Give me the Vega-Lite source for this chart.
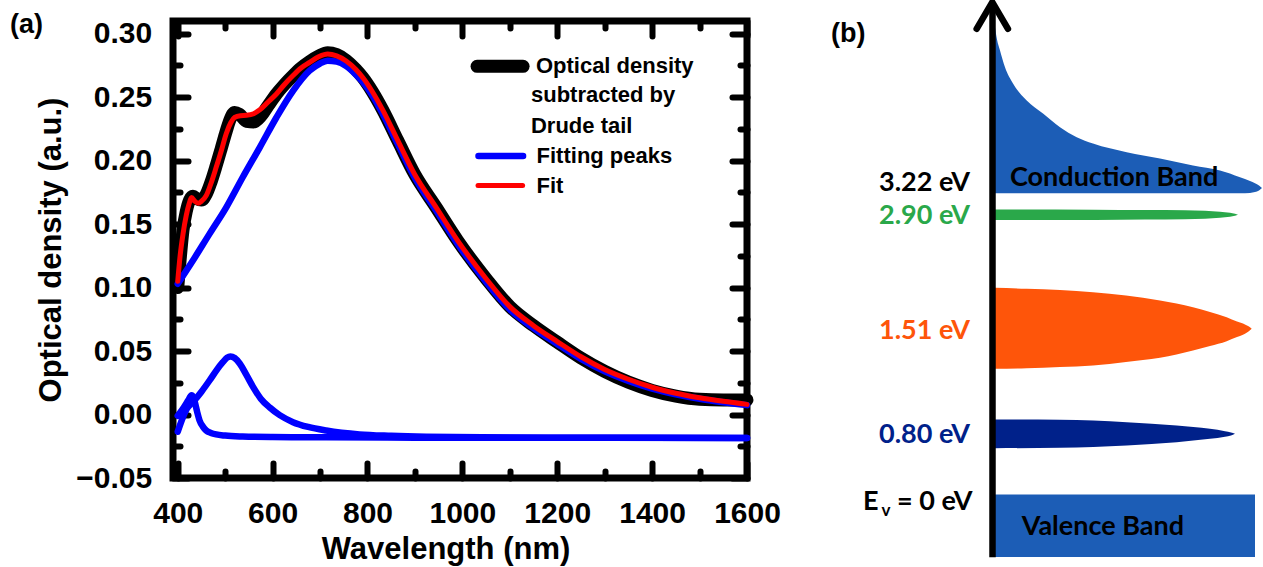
{
  "$schema": "https://vega.github.io/schema/vega-lite/v6.json",
  "padding": {"left": 6, "top": -11, "right": 0, "bottom": 0},
  "background": "white",
  "bounds": "flush",
  "spacing": 83,
  "config": {"view": {"stroke": null}, "font": "Liberation Sans"},
  "datasets": {
    "measured": [
      {"wl": 400, "od": 0.100}, {"wl": 405, "od": 0.122}, {"wl": 411, "od": 0.145}, {"wl": 418, "od": 0.160},
      {"wl": 425, "od": 0.169}, {"wl": 432, "od": 0.172}, {"wl": 440, "od": 0.170}, {"wl": 450, "od": 0.169},
      {"wl": 460, "od": 0.1735}, {"wl": 470, "od": 0.183}, {"wl": 481, "od": 0.196}, {"wl": 492, "od": 0.210},
      {"wl": 502, "od": 0.223}, {"wl": 512, "od": 0.234}, {"wl": 520, "od": 0.238}, {"wl": 530, "od": 0.2365},
      {"wl": 545, "od": 0.231}, {"wl": 560, "od": 0.2305}, {"wl": 575, "od": 0.235}, {"wl": 590, "od": 0.243},
      {"wl": 608, "od": 0.2525}, {"wl": 625, "od": 0.260}, {"wl": 643, "od": 0.267}, {"wl": 660, "od": 0.273},
      {"wl": 678, "od": 0.278}, {"wl": 698, "od": 0.2825}, {"wl": 716, "od": 0.285}, {"wl": 735, "od": 0.2835},
      {"wl": 755, "od": 0.279}, {"wl": 775, "od": 0.272}, {"wl": 790, "od": 0.2655}, {"wl": 810, "od": 0.2545},
      {"wl": 832, "od": 0.240}, {"wl": 864, "od": 0.2157}, {"wl": 899, "od": 0.1895}, {"wl": 945, "od": 0.163},
      {"wl": 990, "od": 0.137}, {"wl": 1050, "od": 0.107}, {"wl": 1100, "od": 0.085}, {"wl": 1150, "od": 0.070},
      {"wl": 1200, "od": 0.057}, {"wl": 1250, "od": 0.0445}, {"wl": 1300, "od": 0.034}, {"wl": 1350, "od": 0.0255},
      {"wl": 1400, "od": 0.019}, {"wl": 1450, "od": 0.0145}, {"wl": 1500, "od": 0.012}, {"wl": 1550, "od": 0.0115},
      {"wl": 1600, "od": 0.0115}
    ],
    "fit": [
      {"wl": 400, "od": 0.105}, {"wl": 405, "od": 0.125}, {"wl": 411, "od": 0.142}, {"wl": 418, "od": 0.157},
      {"wl": 424, "od": 0.166}, {"wl": 429, "od": 0.171}, {"wl": 436, "od": 0.168}, {"wl": 443, "od": 0.1664},
      {"wl": 450, "od": 0.168}, {"wl": 460, "od": 0.1724}, {"wl": 470, "od": 0.182}, {"wl": 481, "od": 0.1947},
      {"wl": 492, "od": 0.208}, {"wl": 502, "od": 0.221}, {"wl": 512, "od": 0.230}, {"wl": 520, "od": 0.234},
      {"wl": 532, "od": 0.2354}, {"wl": 545, "od": 0.2357}, {"wl": 560, "od": 0.237}, {"wl": 573, "od": 0.240},
      {"wl": 590, "od": 0.246}, {"wl": 608, "od": 0.2525}, {"wl": 625, "od": 0.260}, {"wl": 643, "od": 0.267},
      {"wl": 660, "od": 0.273}, {"wl": 678, "od": 0.2774}, {"wl": 698, "od": 0.282}, {"wl": 716, "od": 0.284},
      {"wl": 735, "od": 0.2825}, {"wl": 755, "od": 0.2785}, {"wl": 775, "od": 0.272}, {"wl": 790, "od": 0.2655},
      {"wl": 810, "od": 0.2545}, {"wl": 832, "od": 0.240}, {"wl": 864, "od": 0.2157}, {"wl": 899, "od": 0.1895},
      {"wl": 945, "od": 0.163}, {"wl": 990, "od": 0.137}, {"wl": 1050, "od": 0.107}, {"wl": 1100, "od": 0.085},
      {"wl": 1150, "od": 0.070}, {"wl": 1200, "od": 0.0575}, {"wl": 1250, "od": 0.0455}, {"wl": 1300, "od": 0.0355},
      {"wl": 1350, "od": 0.0278}, {"wl": 1400, "od": 0.0215}, {"wl": 1450, "od": 0.0168}, {"wl": 1500, "od": 0.0132},
      {"wl": 1550, "od": 0.0104}, {"wl": 1600, "od": 0.0080}
    ],
    "peaks": [
      {"peak": "P1", "wl": 400, "od": 0.103}, {"peak": "P1", "wl": 432, "od": 0.1213}, {"peak": "P1", "wl": 467, "od": 0.1423},
      {"peak": "P1", "wl": 502, "od": 0.163}, {"peak": "P1", "wl": 537, "od": 0.1869}, {"peak": "P1", "wl": 573, "od": 0.2105},
      {"peak": "P1", "wl": 608, "od": 0.234}, {"peak": "P1", "wl": 643, "od": 0.255}, {"peak": "P1", "wl": 678, "od": 0.2709},
      {"peak": "P1", "wl": 700, "od": 0.2765}, {"peak": "P1", "wl": 716, "od": 0.2787}, {"peak": "P1", "wl": 735, "od": 0.278},
      {"peak": "P1", "wl": 755, "od": 0.2745}, {"peak": "P1", "wl": 775, "od": 0.268}, {"peak": "P1", "wl": 790, "od": 0.262},
      {"peak": "P1", "wl": 810, "od": 0.2515}, {"peak": "P1", "wl": 832, "od": 0.237}, {"peak": "P1", "wl": 864, "od": 0.213},
      {"peak": "P1", "wl": 899, "od": 0.187}, {"peak": "P1", "wl": 945, "od": 0.1605}, {"peak": "P1", "wl": 990, "od": 0.1345},
      {"peak": "P1", "wl": 1050, "od": 0.1045}, {"peak": "P1", "wl": 1100, "od": 0.0828}, {"peak": "P1", "wl": 1150, "od": 0.068},
      {"peak": "P1", "wl": 1200, "od": 0.0556}, {"peak": "P1", "wl": 1250, "od": 0.0438}, {"peak": "P1", "wl": 1300, "od": 0.034},
      {"peak": "P1", "wl": 1350, "od": 0.0265}, {"peak": "P1", "wl": 1400, "od": 0.0204}, {"peak": "P1", "wl": 1450, "od": 0.0159},
      {"peak": "P1", "wl": 1500, "od": 0.0124}, {"peak": "P1", "wl": 1550, "od": 0.0097}, {"peak": "P1", "wl": 1600, "od": 0.0074},
      {"peak": "P2", "wl": 400, "od": -0.0135}, {"peak": "P2", "wl": 411, "od": -0.0021}, {"peak": "P2", "wl": 420, "od": 0.005},
      {"peak": "P2", "wl": 432, "od": 0.0098}, {"peak": "P2", "wl": 450, "od": 0.018}, {"peak": "P2", "wl": 467, "od": 0.0268},
      {"peak": "P2", "wl": 482, "od": 0.035}, {"peak": "P2", "wl": 495, "od": 0.0412}, {"peak": "P2", "wl": 504, "od": 0.0448},
      {"peak": "P2", "wl": 511, "od": 0.0457}, {"peak": "P2", "wl": 520, "od": 0.0445}, {"peak": "P2", "wl": 531, "od": 0.040},
      {"peak": "P2", "wl": 545, "od": 0.031}, {"peak": "P2", "wl": 559, "od": 0.0216}, {"peak": "P2", "wl": 575, "od": 0.0125},
      {"peak": "P2", "wl": 594, "od": 0.0055}, {"peak": "P2", "wl": 615, "od": -0.0005}, {"peak": "P2", "wl": 643, "od": -0.006},
      {"peak": "P2", "wl": 675, "od": -0.0098}, {"peak": "P2", "wl": 713, "od": -0.0126}, {"peak": "P2", "wl": 783, "od": -0.0157},
      {"peak": "P2", "wl": 850, "od": -0.0168}, {"peak": "P2", "wl": 924, "od": -0.0175}, {"peak": "P2", "wl": 1100, "od": -0.0181},
      {"peak": "P2", "wl": 1300, "od": -0.0183}, {"peak": "P2", "wl": 1600, "od": -0.0184},
      {"peak": "P3", "wl": 400, "od": -0.001}, {"peak": "P3", "wl": 410, "od": 0.004}, {"peak": "P3", "wl": 418, "od": 0.0087},
      {"peak": "P3", "wl": 424, "od": 0.0125}, {"peak": "P3", "wl": 429, "od": 0.0152}, {"peak": "P3", "wl": 433, "od": 0.0135},
      {"peak": "P3", "wl": 436, "od": 0.0098}, {"peak": "P3", "wl": 441, "od": 0.002}, {"peak": "P3", "wl": 446, "od": -0.0047},
      {"peak": "P3", "wl": 453, "od": -0.0095}, {"peak": "P3", "wl": 460, "od": -0.0126}, {"peak": "P3", "wl": 470, "od": -0.0145},
      {"peak": "P3", "wl": 481, "od": -0.0157}, {"peak": "P3", "wl": 500, "od": -0.0166}, {"peak": "P3", "wl": 537, "od": -0.0173},
      {"peak": "P3", "wl": 600, "od": -0.0177}, {"peak": "P3", "wl": 713, "od": -0.0179}, {"peak": "P3", "wl": 900, "od": -0.0182},
      {"peak": "P3", "wl": 1200, "od": -0.0183}, {"peak": "P3", "wl": 1600, "od": -0.0184}
    ],
    "bands": [
      {"band": "Conduction band", "dos": 0, "top": 467.3, "bottom": 301.3},
      {"band": "Conduction band", "dos": 2, "top": 455, "bottom": 301.3},
      {"band": "Conduction band", "dos": 5, "top": 444, "bottom": 301.3},
      {"band": "Conduction band", "dos": 10, "top": 427.3, "bottom": 301.3},
      {"band": "Conduction band", "dos": 18, "top": 411, "bottom": 301.3},
      {"band": "Conduction band", "dos": 31.7, "top": 394, "bottom": 301.3},
      {"band": "Conduction band", "dos": 48, "top": 381, "bottom": 301.3},
      {"band": "Conduction band", "dos": 65, "top": 367.3, "bottom": 301.3},
      {"band": "Conduction band", "dos": 81.7, "top": 357.3, "bottom": 301.3},
      {"band": "Conduction band", "dos": 98, "top": 351, "bottom": 301.3},
      {"band": "Conduction band", "dos": 131.7, "top": 342.3, "bottom": 301.3},
      {"band": "Conduction band", "dos": 165, "top": 336, "bottom": 301.3},
      {"band": "Conduction band", "dos": 198, "top": 329, "bottom": 301.3},
      {"band": "Conduction band", "dos": 225, "top": 324, "bottom": 301.3},
      {"band": "Conduction band", "dos": 245, "top": 317.3, "bottom": 301.3},
      {"band": "Conduction band", "dos": 255, "top": 313.5, "bottom": 301.6},
      {"band": "Conduction band", "dos": 260, "top": 311.2, "bottom": 302.5},
      {"band": "Conduction band", "dos": 264, "top": 309, "bottom": 304},
      {"band": "Conduction band", "dos": 267, "top": 306.5, "bottom": 306.5},
      {"band": "2.90 eV level", "dos": 0, "top": 285, "bottom": 274.4},
      {"band": "2.90 eV level", "dos": 100, "top": 284.8, "bottom": 274.6},
      {"band": "2.90 eV level", "dos": 150, "top": 284.5, "bottom": 274.9},
      {"band": "2.90 eV level", "dos": 190, "top": 284.2, "bottom": 275.3},
      {"band": "2.90 eV level", "dos": 210, "top": 283.7, "bottom": 275.8},
      {"band": "2.90 eV level", "dos": 225, "top": 282.7, "bottom": 276.8},
      {"band": "2.90 eV level", "dos": 235, "top": 281.7, "bottom": 277.8},
      {"band": "2.90 eV level", "dos": 240, "top": 280.8, "bottom": 278.8},
      {"band": "2.90 eV level", "dos": 243, "top": 279.8, "bottom": 279.8},
      {"band": "1.51 eV level", "dos": 0, "top": 206.7, "bottom": 125.7},
      {"band": "1.51 eV level", "dos": 31.7, "top": 205.7, "bottom": 126.3},
      {"band": "1.51 eV level", "dos": 65, "top": 204.5, "bottom": 127.5},
      {"band": "1.51 eV level", "dos": 98, "top": 202.3, "bottom": 129},
      {"band": "1.51 eV level", "dos": 131, "top": 199, "bottom": 132.5},
      {"band": "1.51 eV level", "dos": 165, "top": 194, "bottom": 136.7},
      {"band": "1.51 eV level", "dos": 198, "top": 187.3, "bottom": 144},
      {"band": "1.51 eV level", "dos": 215, "top": 182.5, "bottom": 148.5},
      {"band": "1.51 eV level", "dos": 231.7, "top": 177.3, "bottom": 153.3},
      {"band": "1.51 eV level", "dos": 242, "top": 173, "bottom": 157.5},
      {"band": "1.51 eV level", "dos": 248, "top": 171, "bottom": 159.7},
      {"band": "1.51 eV level", "dos": 252, "top": 169, "bottom": 162},
      {"band": "1.51 eV level", "dos": 255, "top": 167.2, "bottom": 164.2},
      {"band": "1.51 eV level", "dos": 256.7, "top": 165.7, "bottom": 165.7},
      {"band": "0.80 eV level", "dos": 0, "top": 75, "bottom": 46.3},
      {"band": "0.80 eV level", "dos": 65, "top": 74.7, "bottom": 46.7},
      {"band": "0.80 eV level", "dos": 131.7, "top": 72.3, "bottom": 49},
      {"band": "0.80 eV level", "dos": 181.7, "top": 69, "bottom": 52.3},
      {"band": "0.80 eV level", "dos": 215, "top": 65.7, "bottom": 55.7},
      {"band": "0.80 eV level", "dos": 230, "top": 63.3, "bottom": 57.7},
      {"band": "0.80 eV level", "dos": 236, "top": 62, "bottom": 59},
      {"band": "0.80 eV level", "dos": 240, "top": 60.7, "bottom": 60.7},
      {"band": "Valence band", "dos": 0, "top": 0, "bottom": -62.5},
      {"band": "Valence band", "dos": 260, "top": 0, "bottom": -62.5}
    ],
    "levels": [
      {"label": "3.22 eV", "band": "Band edge", "e": 311.5},
      {"label": "2.90 eV", "band": "2.90 eV level", "e": 279},
      {"label": "1.51 eV", "band": "1.51 eV level", "e": 164},
      {"label": "0.80 eV", "band": "0.80 eV level", "e": 60}
    ]
  },
  "hconcat": [
    {
      "width": 574,
      "height": 457,
      "view": {"stroke": "black", "strokeWidth": 7},
      "resolve": {"axis": {"x": "independent", "y": "independent"}},
      "layer": [
        {
          "data": {"name": "measured"},
          "mark": {"type": "line", "color": "black", "strokeWidth": 13, "interpolate": "monotone", "strokeCap": "round", "strokeJoin": "round"},
          "encoding": {
            "x": {"field": "wl", "type": "quantitative", "scale": {"domain": [390, 1600], "nice": false, "zero": false},
              "axis": {"orient": "bottom", "values": [400, 600, 800, 1000, 1200, 1400, 1600], "format": "d", "ticks": false, "tickSize": 0, "domain": false, "grid": false,
                "labelFont": "Liberation Sans", "labelFontSize": 30, "labelFontWeight": "bold", "labelColor": "black", "labelPadding": 20.5, "labelFlush": false, "labelOverlap": false,
                "title": "Wavelength (nm)", "titleFont": "Liberation Sans", "titleFontSize": 31, "titleFontWeight": "bold", "titleColor": "black", "titlePadding": 6, "titleX": 272.5}},
            "y": {"field": "od", "type": "quantitative", "scale": {"domain": [-0.05, 0.31], "nice": false, "zero": false},
              "axis": {"orient": "left", "values": [-0.05, 0, 0.05, 0.1, 0.15, 0.2, 0.25, 0.3], "format": ".2f", "ticks": false, "tickSize": 0, "domain": false, "grid": false,
                "labelFont": "Liberation Sans", "labelFontSize": 30, "labelFontWeight": "bold", "labelColor": "black", "labelPadding": 21.3, "labelFlush": false, "labelOverlap": false,
                "title": "Optical density (a.u.)", "titleFont": "Liberation Sans", "titleFontSize": 31, "titleFontWeight": "bold", "titleColor": "black", "titlePadding": 8}}
          }
        },
        {
          "data": {"name": "peaks"},
          "mark": {"type": "line", "color": "#0000ff", "strokeWidth": 6.5, "interpolate": "monotone", "strokeCap": "round"},
          "encoding": {
            "x": {"field": "wl", "type": "quantitative",
              "axis": {"orient": "bottom", "values": [400, 600, 800, 1000, 1200, 1400, 1600], "labels": false, "domain": false, "grid": false, "ticks": true, "tickSize": -15, "tickWidth": 6, "tickColor": "black", "tickCap": "round", "title": null}},
            "y": {"field": "od", "type": "quantitative",
              "axis": {"orient": "left", "values": [-0.05, 0, 0.05, 0.1, 0.15, 0.2, 0.25, 0.3], "labels": false, "domain": false, "grid": false, "ticks": true, "tickSize": -15, "tickWidth": 6, "tickColor": "black", "tickCap": "round", "title": null}},
            "detail": {"field": "peak", "type": "nominal"}
          }
        },
        {
          "data": {"name": "fit"},
          "mark": {"type": "line", "color": "#ff0000", "strokeWidth": 5, "interpolate": "monotone", "strokeCap": "round"},
          "encoding": {
            "x": {"field": "wl", "type": "quantitative",
              "axis": {"orient": "top", "values": [400, 600, 800, 1000, 1200, 1400, 1600], "labels": false, "domain": false, "grid": false, "ticks": true, "tickSize": -15, "tickWidth": 6, "tickColor": "black", "tickCap": "round", "title": null}},
            "y": {"field": "od", "type": "quantitative",
              "axis": {"orient": "right", "values": [-0.05, 0, 0.05, 0.1, 0.15, 0.2, 0.25, 0.3], "labels": false, "domain": false, "grid": false, "ticks": true, "tickSize": -15, "tickWidth": 6, "tickColor": "black", "tickCap": "round", "title": null}}
          }
        },
        {
          "data": {"values": [{}]},
          "mark": {"type": "rule", "color": "black", "strokeWidth": 13, "strokeCap": "round"},
          "encoding": {
            "x": {"datum": 1031, "type": "quantitative",
              "axis": {"orient": "bottom", "values": [500, 700, 900, 1100, 1300, 1500], "labels": false, "domain": false, "grid": false, "ticks": true, "tickSize": -7, "tickWidth": 6, "tickColor": "black", "tickCap": "round", "title": null}},
            "x2": {"datum": 1128},
            "y": {"datum": 0.2743, "type": "quantitative",
              "axis": {"orient": "left", "values": [-0.025, 0.025, 0.075, 0.125, 0.175, 0.225, 0.275], "labels": false, "domain": false, "grid": false, "ticks": true, "tickSize": -7, "tickWidth": 6, "tickColor": "black", "tickCap": "round", "title": null}}
          }
        },
        {
          "data": {"values": [{}]},
          "mark": {"type": "rule", "color": "#0000ff", "strokeWidth": 6.5, "strokeCap": "round"},
          "encoding": {
            "x": {"datum": 1034, "type": "quantitative",
              "axis": {"orient": "top", "values": [500, 700, 900, 1100, 1300, 1500], "labels": false, "domain": false, "grid": false, "ticks": true, "tickSize": -7, "tickWidth": 6, "tickColor": "black", "tickCap": "round", "title": null}},
            "x2": {"datum": 1128},
            "y": {"datum": 0.2037, "type": "quantitative",
              "axis": {"orient": "right", "values": [-0.025, 0.025, 0.075, 0.125, 0.175, 0.225, 0.275], "labels": false, "domain": false, "grid": false, "ticks": true, "tickSize": -7, "tickWidth": 6, "tickColor": "black", "tickCap": "round", "title": null}}
          }
        },
        {
          "data": {"values": [{}]},
          "mark": {"type": "rule", "color": "#ff0000", "strokeWidth": 5, "strokeCap": "round"},
          "encoding": {
            "x": {"datum": 1033, "type": "quantitative", "axis": null},
            "x2": {"datum": 1127},
            "y": {"datum": 0.1804, "type": "quantitative", "axis": null}
          }
        },
        {
          "data": {"values": [{}]},
          "mark": {"type": "text", "text": "Optical density", "align": "left", "baseline": "alphabetic", "font": "Liberation Sans", "fontSize": 22, "fontWeight": "bold", "color": "black"},
          "encoding": {"x": {"datum": 1155, "type": "quantitative", "axis": null}, "y": {"datum": 0.2690, "type": "quantitative", "axis": null}}
        },
        {
          "data": {"values": [{}]},
          "mark": {"type": "text", "text": "subtracted by", "align": "left", "baseline": "alphabetic", "font": "Liberation Sans", "fontSize": 22, "fontWeight": "bold", "color": "black"},
          "encoding": {"x": {"datum": 1144.6, "type": "quantitative", "axis": null}, "y": {"datum": 0.2461, "type": "quantitative", "axis": null}}
        },
        {
          "data": {"values": [{}]},
          "mark": {"type": "text", "text": "Drude tail", "align": "left", "baseline": "alphabetic", "font": "Liberation Sans", "fontSize": 22, "fontWeight": "bold", "color": "black"},
          "encoding": {"x": {"datum": 1144.6, "type": "quantitative", "axis": null}, "y": {"datum": 0.2220, "type": "quantitative", "axis": null}}
        },
        {
          "data": {"values": [{}]},
          "mark": {"type": "text", "text": "Fitting peaks", "align": "left", "baseline": "alphabetic", "font": "Liberation Sans", "fontSize": 22, "fontWeight": "bold", "color": "black"},
          "encoding": {"x": {"datum": 1156.4, "type": "quantitative", "axis": null}, "y": {"datum": 0.1984, "type": "quantitative", "axis": null}}
        },
        {
          "data": {"values": [{}]},
          "mark": {"type": "text", "text": "Fit", "align": "left", "baseline": "alphabetic", "font": "Liberation Sans", "fontSize": 22, "fontWeight": "bold", "color": "black"},
          "encoding": {"x": {"datum": 1156.4, "type": "quantitative", "axis": null}, "y": {"datum": 0.1748, "type": "quantitative", "axis": null}}
        },
        {
          "data": {"values": [{}]},
          "mark": {"type": "text", "text": "(a)", "align": "left", "baseline": "middle", "font": "Liberation Sans", "fontSize": 27, "fontWeight": "bold", "color": "black"},
          "encoding": {"x": {"datum": 46.3, "type": "quantitative", "axis": null}, "y": {"datum": 0.3065, "type": "quantitative", "axis": null}}
        }
      ]
    },
    {
      "width": 433,
      "height": 537,
      "view": {"stroke": null},
      "layer": [
        {
          "data": {"name": "bands"},
          "mark": {"type": "area", "interpolate": "monotone", "opacity": 1},
          "encoding": {
            "x": {"field": "dos", "type": "quantitative", "scale": {"domain": [-165, 268], "nice": false, "zero": false}, "axis": null},
            "y": {"field": "top", "type": "quantitative", "scale": {"domain": [-63.5, 473.5], "nice": false, "zero": false}, "axis": null, "stack": null},
            "y2": {"field": "bottom"},
            "color": {"field": "band", "type": "nominal", "legend": null,
              "scale": {"domain": ["Conduction band", "2.90 eV level", "1.51 eV level", "0.80 eV level", "Valence band", "Band edge"],
                        "range": ["#1c5db6", "#2aa84a", "#fe550a", "#00218a", "#1c5db6", "#000000"]}}
          }
        },
        {
          "data": {"values": [{}]},
          "mark": {"type": "rule", "color": "black", "strokeWidth": 6.5},
          "encoding": {"x": {"datum": -2.5, "type": "quantitative"}, "y": {"datum": -62.7, "type": "quantitative"}, "y2": {"datum": 490}}
        },
        {
          "data": {"values": [{}]},
          "mark": {"type": "point", "shape": "M-1,0.85L0,-0.85L1,0.85", "filled": false, "size": 980, "stroke": "black", "strokeWidth": 6.5, "strokeCap": "round", "strokeJoin": "miter", "opacity": 1},
          "encoding": {"x": {"datum": -2.7, "type": "quantitative"}, "y": {"datum": 479, "type": "quantitative"}}
        },
        {
          "data": {"name": "levels"},
          "mark": {"type": "text", "align": "right", "baseline": "middle", "font": "Lato", "fontSize": 27, "fontWeight": "bold"},
          "encoding": {
            "x": {"datum": -25, "type": "quantitative"},
            "y": {"field": "e", "type": "quantitative"},
            "text": {"field": "label"},
            "color": {"field": "band", "type": "nominal", "legend": null}
          }
        },
        {
          "data": {"values": [{}]},
          "mark": {"type": "text", "text": "Conduction Band", "align": "left", "baseline": "middle", "font": "Lato", "fontSize": 27, "fontWeight": "bold", "color": "black"},
          "encoding": {"x": {"datum": 15, "type": "quantitative"}, "y": {"datum": 317, "type": "quantitative"}}
        },
        {
          "data": {"values": [{}]},
          "mark": {"type": "text", "text": "Valence Band", "align": "left", "baseline": "middle", "font": "Lato", "fontSize": 27, "fontWeight": "bold", "color": "black"},
          "encoding": {"x": {"datum": 26.7, "type": "quantitative"}, "y": {"datum": -32, "type": "quantitative"}}
        },
        {
          "data": {"values": [{}]},
          "mark": {"type": "text", "text": "E", "align": "left", "baseline": "middle", "font": "Lato", "fontSize": 27, "fontWeight": "bold", "color": "black"},
          "encoding": {"x": {"datum": -132, "type": "quantitative"}, "y": {"datum": -7.7, "type": "quantitative"}}
        },
        {
          "data": {"values": [{}]},
          "mark": {"type": "text", "text": "v", "align": "left", "baseline": "middle", "font": "Lato", "fontSize": 17, "fontWeight": "bold", "color": "black"},
          "encoding": {"x": {"datum": -113.5, "type": "quantitative"}, "y": {"datum": -16, "type": "quantitative"}}
        },
        {
          "data": {"values": [{}]},
          "mark": {"type": "text", "text": "= 0 eV", "align": "left", "baseline": "middle", "font": "Lato", "fontSize": 27, "fontWeight": "bold", "color": "black"},
          "encoding": {"x": {"datum": -98, "type": "quantitative"}, "y": {"datum": -7.7, "type": "quantitative"}}
        },
        {
          "data": {"values": [{}]},
          "mark": {"type": "text", "text": "(b)", "align": "left", "baseline": "middle", "font": "Liberation Sans", "fontSize": 27, "fontWeight": "bold", "color": "black"},
          "encoding": {"x": {"datum": -164, "type": "quantitative"}, "y": {"datum": 461, "type": "quantitative"}}
        }
      ]
    }
  ]
}
